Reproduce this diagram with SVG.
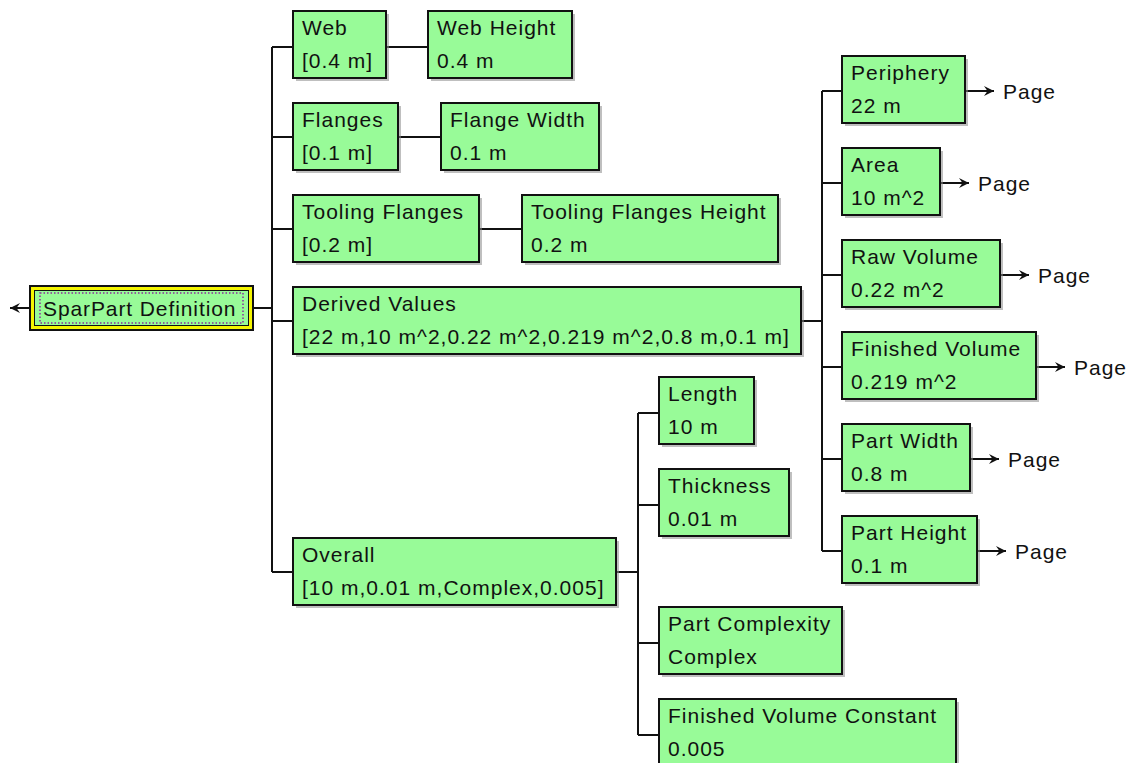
<svg xmlns="http://www.w3.org/2000/svg" width="1137" height="763" viewBox="0 0 1137 763">
<style>
.sh{fill:#8a8a8a;opacity:0.55}
.bx{fill:#98FB98;stroke:#111;stroke-width:2}
.t{font-family:"Liberation Sans",Arial,sans-serif;font-size:21px;letter-spacing:1px;fill:#111}
.c{fill:none;stroke:#111;stroke-width:2}
</style>
<defs>
<marker id="arr" markerUnits="userSpaceOnUse" markerWidth="14" markerHeight="12" viewBox="-12 -6 14 12" refX="0" refY="0" orient="auto">
<path d="M0,0 L-10,-5 L-6.5,0 L-10,5 Z" fill="#111"/>
</marker>
</defs>
<rect width="1137" height="763" fill="#fff"/>

<g id="connectors">
<path class="c" d="M254,308 H272 M272,47 V572 M272,47 H293 M272,137 H293 M272,229 H293 M272,321 H293 M272,572 H293"/>
<path class="c" d="M386,47 H428 M398,137 H441 M479,229 H522"/>
<path class="c" d="M801,321 H822 M822,91 V551 M822,91 H842 M822,183 H842 M822,275 H842 M822,367 H842 M822,459 H842 M822,551 H842"/>
<path class="c" d="M616,572 H638 M638,413 V735 M638,413 H659 M638,505 H659 M638,643 H659 M638,735 H659"/>
<line class="c" x1="29" y1="308" x2="10" y2="308" marker-end="url(#arr)"/>
<line class="c" x1="965" y1="91" x2="994" y2="91" marker-end="url(#arr)"/>
<line class="c" x1="940" y1="183" x2="969" y2="183" marker-end="url(#arr)"/>
<line class="c" x1="1000" y1="275" x2="1029" y2="275" marker-end="url(#arr)"/>
<line class="c" x1="1036" y1="367" x2="1065" y2="367" marker-end="url(#arr)"/>
<line class="c" x1="970" y1="459" x2="999" y2="459" marker-end="url(#arr)"/>
<line class="c" x1="977" y1="551" x2="1006" y2="551" marker-end="url(#arr)"/>
</g>

<g id="root">
<rect x="29" y="285" width="225" height="46" fill="#111"/>
<rect x="31" y="287" width="221" height="42" fill="#f5f500"/>
<rect x="34.5" y="290.5" width="214" height="35" fill="#98FB98" stroke="#111" stroke-width="1"/>
<rect x="40" y="293" width="203" height="30" fill="none" stroke="#8a2a9a" stroke-width="1.5" stroke-dasharray="1.5 2"/>
<text class="t" x="43" y="316" style="letter-spacing:0.9px">SparPart Definition</text>
</g>

<g id="web">
<rect class="sh" x="296" y="14" width="93" height="67"/>
<rect class="bx" x="293" y="11" width="93" height="67"/>
<text class="t" x="302" y="35">Web</text><text class="t" x="302" y="68">[0.4 m]</text>
</g>
<g id="web-height">
<rect class="sh" x="431" y="14" width="144" height="67"/>
<rect class="bx" x="428" y="11" width="144" height="67"/>
<text class="t" x="437" y="35">Web Height</text><text class="t" x="437" y="68">0.4 m</text>
</g>
<g id="flanges">
<rect class="sh" x="296" y="106" width="105" height="67"/>
<rect class="bx" x="293" y="103" width="105" height="67"/>
<text class="t" x="302" y="127">Flanges</text><text class="t" x="302" y="160">[0.1 m]</text>
</g>
<g id="flange-width">
<rect class="sh" x="444" y="106" width="158" height="67"/>
<rect class="bx" x="441" y="103" width="158" height="67"/>
<text class="t" x="450" y="127">Flange Width</text><text class="t" x="450" y="160">0.1 m</text>
</g>
<g id="tooling-flanges">
<rect class="sh" x="296" y="198" width="186" height="67"/>
<rect class="bx" x="293" y="195" width="186" height="67"/>
<text class="t" x="302" y="219">Tooling Flanges</text><text class="t" x="302" y="252">[0.2 m]</text>
</g>
<g id="tooling-flanges-height">
<rect class="sh" x="525" y="198" width="256" height="67"/>
<rect class="bx" x="522" y="195" width="256" height="67"/>
<text class="t" x="531" y="219">Tooling Flanges Height</text><text class="t" x="531" y="252">0.2 m</text>
</g>
<g id="derived-values">
<rect class="sh" x="296" y="290" width="508" height="67"/>
<rect class="bx" x="293" y="287" width="508" height="67"/>
<text class="t" x="302" y="311">Derived Values</text><text class="t" x="302" y="344">[22 m,10 m^2,0.22 m^2,0.219 m^2,0.8 m,0.1 m]</text>
</g>
<g id="overall">
<rect class="sh" x="296" y="541" width="323" height="67"/>
<rect class="bx" x="293" y="538" width="323" height="67"/>
<text class="t" x="302" y="562">Overall</text><text class="t" x="302" y="595">[10 m,0.01 m,Complex,0.005]</text>
</g>

<g id="periphery">
<rect class="sh" x="845" y="59" width="123" height="67"/>
<rect class="bx" x="842" y="56" width="123" height="67"/>
<text class="t" x="851" y="80">Periphery</text><text class="t" x="851" y="113">22 m</text>
<text class="t" x="1003" y="99">Page</text>
</g>
<g id="area">
<rect class="sh" x="845" y="151" width="98" height="67"/>
<rect class="bx" x="842" y="148" width="98" height="67"/>
<text class="t" x="851" y="172">Area</text><text class="t" x="851" y="205">10 m^2</text>
<text class="t" x="978" y="191">Page</text>
</g>
<g id="raw-volume">
<rect class="sh" x="845" y="243" width="158" height="67"/>
<rect class="bx" x="842" y="240" width="158" height="67"/>
<text class="t" x="851" y="264">Raw Volume</text><text class="t" x="851" y="297">0.22 m^2</text>
<text class="t" x="1038" y="283">Page</text>
</g>
<g id="finished-volume">
<rect class="sh" x="845" y="335" width="194" height="67"/>
<rect class="bx" x="842" y="332" width="194" height="67"/>
<text class="t" x="851" y="356">Finished Volume</text><text class="t" x="851" y="389">0.219 m^2</text>
<text class="t" x="1074" y="375">Page</text>
</g>
<g id="part-width">
<rect class="sh" x="845" y="427" width="128" height="67"/>
<rect class="bx" x="842" y="424" width="128" height="67"/>
<text class="t" x="851" y="448">Part Width</text><text class="t" x="851" y="481">0.8 m</text>
<text class="t" x="1008" y="467">Page</text>
</g>
<g id="part-height">
<rect class="sh" x="845" y="519" width="135" height="67"/>
<rect class="bx" x="842" y="516" width="135" height="67"/>
<text class="t" x="851" y="540">Part Height</text><text class="t" x="851" y="573">0.1 m</text>
<text class="t" x="1015" y="559">Page</text>
</g>

<g id="length">
<rect class="sh" x="662" y="380" width="95" height="67"/>
<rect class="bx" x="659" y="377" width="95" height="67"/>
<text class="t" x="668" y="401">Length</text><text class="t" x="668" y="434">10 m</text>
</g>
<g id="thickness">
<rect class="sh" x="662" y="472" width="130" height="67"/>
<rect class="bx" x="659" y="469" width="130" height="67"/>
<text class="t" x="668" y="493">Thickness</text><text class="t" x="668" y="526">0.01 m</text>
</g>
<g id="part-complexity">
<rect class="sh" x="662" y="610" width="183" height="67"/>
<rect class="bx" x="659" y="607" width="183" height="67"/>
<text class="t" x="668" y="631">Part Complexity</text><text class="t" x="668" y="664">Complex</text>
</g>
<g id="finished-volume-constant">
<rect class="sh" x="662" y="702" width="297" height="67"/>
<rect class="bx" x="659" y="699" width="297" height="67"/>
<text class="t" x="668" y="723">Finished Volume Constant</text><text class="t" x="668" y="756">0.005</text>
</g>
</svg>
